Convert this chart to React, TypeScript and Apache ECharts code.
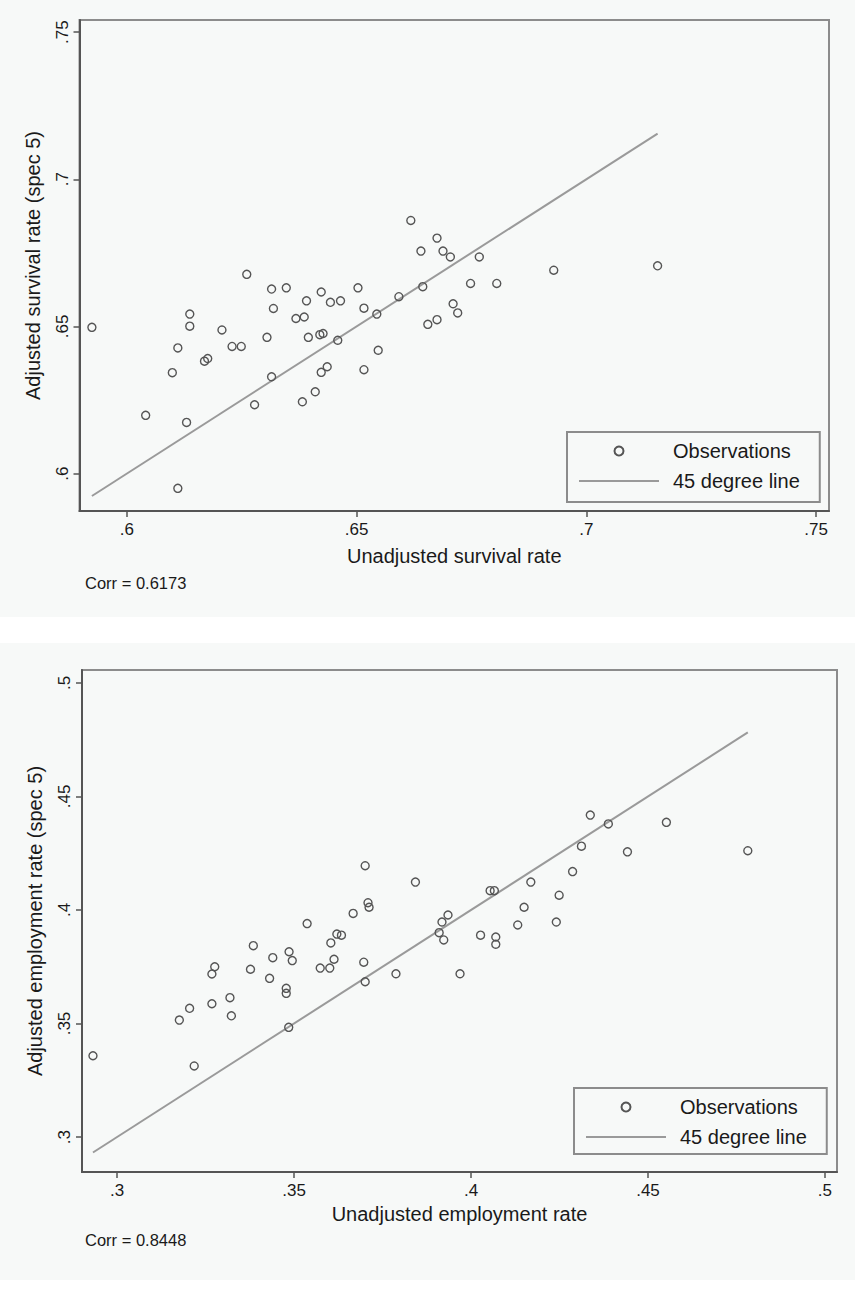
import React, { useEffect, useRef } from 'react';
import * as echarts from 'echarts';

// Top panel: survival rates
const survivalUnadjusted = [
  0.5924, 0.6041, 0.6099, 0.6111, 0.6130, 0.6111, 0.6137, 0.6137, 0.6169, 0.6176,
  0.6207, 0.6229, 0.6249, 0.6261, 0.6278, 0.6305, 0.6315, 0.6319, 0.6315, 0.6347,
  0.6368, 0.6386, 0.6391, 0.6395, 0.6382, 0.6410, 0.6423, 0.6420, 0.6427, 0.6443,
  0.6459, 0.6465, 0.6436, 0.6423, 0.6503, 0.6516, 0.6516, 0.6544, 0.6547, 0.6592,
  0.6618, 0.6644, 0.6640, 0.6655, 0.6675, 0.6675, 0.6688, 0.6704, 0.6710, 0.6720,
  0.6748, 0.6767, 0.6805, 0.6929, 0.7155,
];
const survivalAdjusted = [
  0.6497, 0.6198, 0.6343, 0.6427, 0.6174, 0.5950, 0.6542, 0.6501, 0.6382, 0.6391,
  0.6488, 0.6432, 0.6432, 0.6677, 0.6234, 0.6463, 0.6627, 0.6561, 0.6329, 0.6631,
  0.6527, 0.6532, 0.6587, 0.6463, 0.6244, 0.6278, 0.6617, 0.6472, 0.6476, 0.6582,
  0.6453, 0.6587, 0.6363, 0.6344, 0.6631, 0.6562, 0.6353, 0.6542, 0.6419, 0.6601,
  0.6860, 0.6635, 0.6756, 0.6507, 0.6523, 0.6800, 0.6756, 0.6736, 0.6577, 0.6546,
  0.6646, 0.6736, 0.6646, 0.6691, 0.6706,
];
const survivalTicks = [0.6, 0.65, 0.7, 0.75];

// Bottom panel: employment rates
const employmentUnadjusted = [
  0.2932, 0.3176, 0.3205, 0.3218, 0.3268, 0.3268, 0.3276, 0.3323, 0.3319, 0.3377,
  0.3385, 0.3431, 0.3440, 0.3478, 0.3478, 0.3486, 0.3495, 0.3485, 0.3537, 0.3574,
  0.3601, 0.3613, 0.3604, 0.3621, 0.3634, 0.3667, 0.3697, 0.3701, 0.3701, 0.3709,
  0.3712, 0.3788, 0.3843, 0.3910, 0.3918, 0.3923, 0.3935, 0.3969, 0.4027, 0.4054,
  0.4066, 0.4070, 0.4070, 0.4132, 0.4150, 0.4169, 0.4241, 0.4249, 0.4287, 0.4312,
  0.4337, 0.4388, 0.4442, 0.4552, 0.4782,
];
const employmentAdjusted = [
  0.3358, 0.3515, 0.3567, 0.3313, 0.3587, 0.3718, 0.3750, 0.3534, 0.3614, 0.3739,
  0.3843, 0.3699, 0.3790, 0.3655, 0.3633, 0.3816, 0.3777, 0.3483, 0.3940, 0.3744,
  0.3744, 0.3783, 0.3855, 0.3894, 0.3889, 0.3985, 0.3770, 0.4195, 0.3684, 0.4032,
  0.4012, 0.3719, 0.4123, 0.3900, 0.3947, 0.3868, 0.3978, 0.3719, 0.3889, 0.4085,
  0.4085, 0.3881, 0.3849, 0.3934, 0.4012, 0.4123, 0.3947, 0.4065, 0.4169, 0.4281,
  0.4418, 0.4379, 0.4256, 0.4386, 0.4261,
];
const employmentTicks = [0.3, 0.35, 0.4, 0.45, 0.5];

const legendNames = ['Observations', '45 degree line'];

const FONT = '"Liberation Sans", Arial, Helvetica, sans-serif';
const INK = '#1a1a1a';
const PANEL = '#f7f9f8';

const fmt = (v: number) => String(Number(v.toFixed(4))).replace(/^0\./, '.');

type Cfg = {
  xs: number[];
  ys: number[];
  ticksX: number[];
  ticksY: number[];
  xRange: [number, number];
  yRange: [number, number];
  grid: { left: number; top: number; width: number; height: number };
  xName: string;
  yName: string;
  xNameGap: number;
  corr: string;
  corrY: number;
  legendPos: { left: number; top: number };
  legendPadding: number[];
};

function buildOption(c: Cfg) {
  const lo = Math.min(...c.xs);
  const hi = Math.max(...c.xs);
  return {
    animation: false,
    backgroundColor: PANEL,
    textStyle: { fontFamily: FONT },
    grid: {
      ...c.grid,
      show: true,
      borderColor: '#8c8c8c',
      borderWidth: 2,
      backgroundColor: 'transparent',
      containLabel: false,
    },
    xAxis: {
      type: 'value',
      min: c.xRange[0],
      max: c.xRange[1],
      splitLine: { show: false },
      axisLine: { show: true, onZero: false, lineStyle: { color: '#555', width: 2 } },
      axisTick: { show: true, length: 6, customValues: c.ticksX, lineStyle: { color: '#555', width: 1.5 } },
      axisLabel: { customValues: c.ticksX, formatter: fmt, fontSize: 17, color: INK, margin: 10, fontFamily: FONT },
      name: c.xName,
      nameLocation: 'middle',
      nameGap: c.xNameGap,
      nameTextStyle: { fontSize: 20, color: INK, fontFamily: FONT },
    },
    yAxis: {
      type: 'value',
      min: c.yRange[0],
      max: c.yRange[1],
      splitLine: { show: false },
      axisLine: { show: true, onZero: false, lineStyle: { color: '#555', width: 2 } },
      axisTick: { show: true, length: 6, customValues: c.ticksY, lineStyle: { color: '#555', width: 1.5 } },
      axisLabel: { customValues: c.ticksY, formatter: fmt, fontSize: 17, color: INK, margin: 9, rotate: 90, fontFamily: FONT },
      name: c.yName,
      nameLocation: 'middle',
      nameGap: 37,
      nameTextStyle: { fontSize: 20, color: INK, fontFamily: FONT },
    },
    legend: {
      orient: 'vertical',
      left: c.legendPos.left,
      top: c.legendPos.top,
      padding: c.legendPadding,
      itemGap: 10,
      itemWidth: 80,
      itemHeight: 9,
      borderColor: '#8c8c8c',
      borderWidth: 2,
      borderRadius: 0,
      selectedMode: false,
      data: [
        { name: legendNames[0] },
        { name: legendNames[1], itemStyle: { opacity: 0 } },
      ],
      textStyle: { fontSize: 20, color: INK, fontFamily: FONT, padding: [0, 0, 0, 9] },
    },
    series: [
      {
        name: legendNames[0],
        type: 'scatter',
        data: c.xs.map((x, i) => [x, c.ys[i]]),
        symbol: 'circle',
        symbolSize: 8,
        itemStyle: { color: 'rgba(0,0,0,0)', borderColor: '#555', borderWidth: 1.4, opacity: 1 },
        z: 3,
      },
      {
        name: legendNames[1],
        type: 'line',
        data: [[lo, lo], [hi, hi]],
        showSymbol: false,
        symbol: 'none',
        lineStyle: { color: '#9a9a9a', width: 2 },
        itemStyle: { color: '#9a9a9a' },
        z: 2,
      },
    ],
    graphic: [
      {
        type: 'text',
        x: 85,
        y: c.corrY,
        style: { text: c.corr, fontSize: 16.5, fill: INK, fontFamily: FONT, verticalAlign: 'middle' },
      },
    ],
  };
}

function Chart({ cfg, style }: { cfg: Cfg; style: React.CSSProperties }) {
  const ref = useRef<HTMLDivElement>(null);
  useEffect(() => {
    if (!ref.current) return;
    const chart = echarts.init(ref.current, undefined, { renderer: 'svg' });
    chart.setOption(buildOption(cfg) as any);
    return () => chart.dispose();
  }, [cfg]);
  return <div ref={ref} style={style} />;
}

const topCfg: Cfg = {
  xs: survivalUnadjusted,
  ys: survivalAdjusted,
  ticksX: survivalTicks,
  ticksY: survivalTicks,
  xRange: [0.5897, 0.7528],
  yRange: [0.5873, 0.7541],
  grid: { left: 79.5, top: 20, width: 749.5, height: 491 },
  xName: 'Unadjusted survival rate',
  yName: 'Adjusted survival rate (spec 5)',
  xNameGap: 35,
  corr: 'Corr = 0.6173',
  corrY: 583,
  legendPos: { left: 567, top: 432 },
  legendPadding: [9, 20, 11, 11],
};

const bottomCfg: Cfg = {
  xs: employmentUnadjusted,
  ys: employmentAdjusted,
  ticksX: employmentTicks,
  ticksY: employmentTicks,
  xRange: [0.2901, 0.5034],
  yRange: [0.2846, 0.5057],
  grid: { left: 82, top: 27, width: 755, height: 502 },
  xName: 'Unadjusted employment rate',
  yName: 'Adjusted employment rate (spec 5)',
  xNameGap: 32,
  corr: 'Corr = 0.8448',
  corrY: 597,
  legendPos: { left: 574, top: 445 },
  legendPadding: [9, 20, 7, 11],
};

export default function App() {
  return (
    <div style={{ position: 'absolute', left: 0, top: 0, width: 868, height: 1289, background: '#ffffff' }}>
      <Chart cfg={topCfg} style={{ position: 'absolute', left: 0, top: 0, width: 855, height: 617 }} />
      <Chart cfg={bottomCfg} style={{ position: 'absolute', left: 0, top: 643, width: 855, height: 637 }} />
    </div>
  );
}
